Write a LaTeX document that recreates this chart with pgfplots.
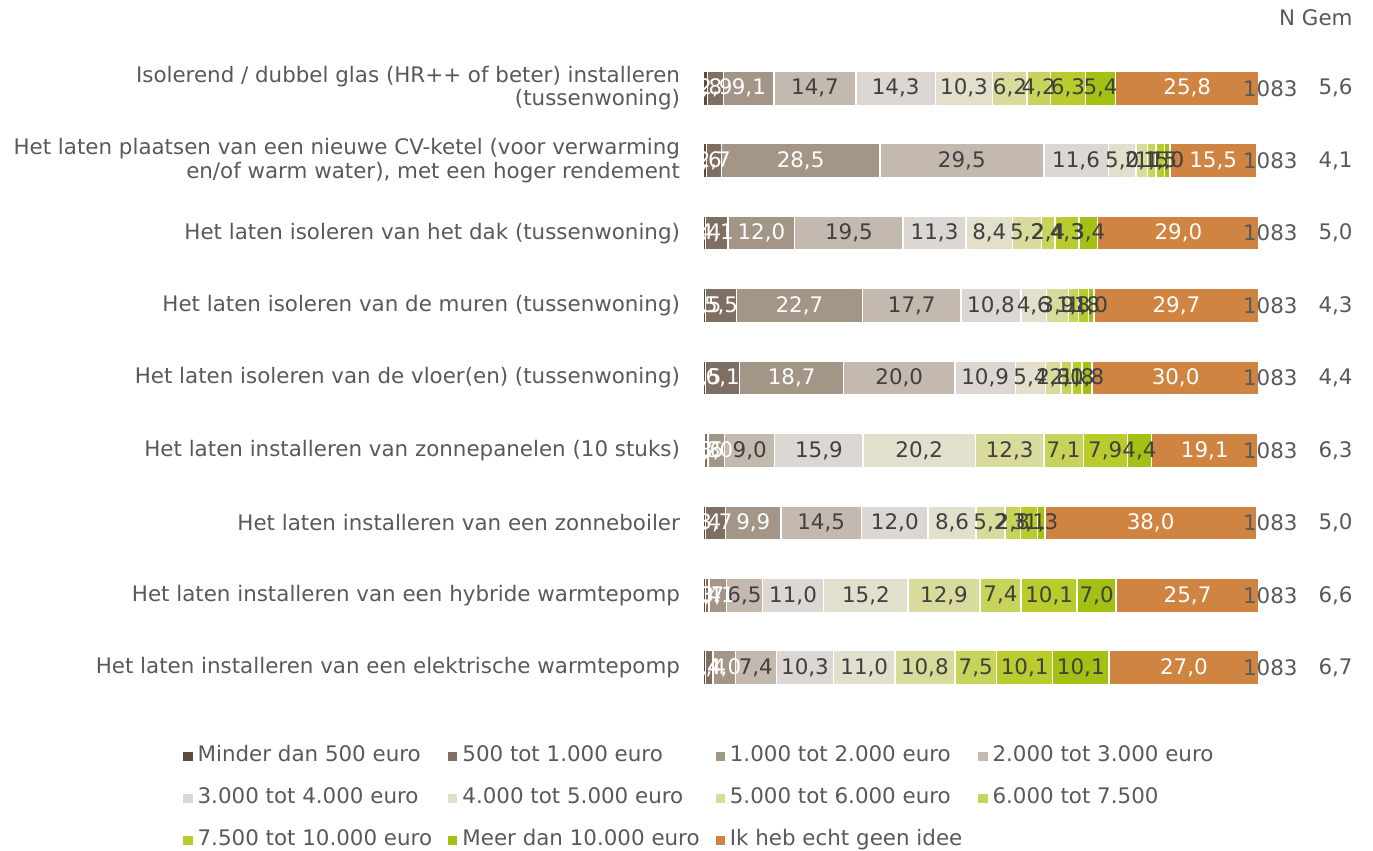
\documentclass[border=0pt]{standalone}
\usepackage{fontspec}
\setmainfont{DejaVu Sans}
\usepackage{pgfplots}
\usepackage{pgfplotstable}
\pgfplotsset{compat=1.18}

\definecolor{txt}{HTML}{595959}
\definecolor{num}{HTML}{404040}
\definecolor{c1}{HTML}{5B4B3D}
\definecolor{c2}{HTML}{7F6F62}
\definecolor{c3}{HTML}{A39686}
\definecolor{c4}{HTML}{C4B9AE}
\definecolor{c5}{HTML}{DCD7D3}
\definecolor{c6}{HTML}{E2DFCD}
\definecolor{c7}{HTML}{D8DB9C}
\definecolor{c8}{HTML}{C8D35C}
\definecolor{c9}{HTML}{B9CB2D}
\definecolor{c10}{HTML}{A4C113}
\definecolor{c11}{HTML}{D08441}

% percentages per measure (rows top to bottom)
\pgfplotstableread{
row c1  c2  c3   c4   c5   c6   c7   c8  c9   c10  c11
0   0.8 2.9 9.1  14.7 14.3 10.3 6.2  4.2 6.3  5.4  25.8
1   0.6 2.7 28.5 29.5 11.6 5.0  2.1  1.5 1.5  1.0  15.5
2   0.4 4.1 12.0 19.5 11.3 8.4  5.2  2.4 4.3  3.4  29.0
3   0.5 5.5 22.7 17.7 10.8 4.6  3.9  1.8 1.8  1.0  29.7
4   0.5 6.1 18.7 20.0 10.9 5.4  2.8  2.0 1.8  1.8  30.0
5   0.3 0.6 3.0  9.0  15.9 20.2 12.3 7.1 7.9  4.4  19.1
6   0.4 3.7 9.9  14.5 12.0 8.6  5.2  2.8 3.1  1.3  38.0
7   0.4 0.7 3.1  6.5  11.0 15.2 12.9 7.4 10.1 7.0  25.7
8   0.4 1.4 4.0  7.4  10.3 11.0 10.8 7.5 10.1 10.1 27.0
}\costs

\begin{document}
\begin{tikzpicture}[font=\fontsize{10.7}{11.8}\selectfont]
\useasboundingbox (0,0) rectangle (686.5pt,-425.5pt);
\begin{axis}[
  at={(351.5pt,-26pt)}, anchor=north west,
  scale only axis, width=278pt, height=326pt,
  xbar stacked, bar width=17pt,
  xmin=0, xmax=100, ymin=-0.5, ymax=8.5,
  y dir=reverse,
  clip=false,
  hide x axis,
  axis y line*=left,
  y axis line style={draw=none},
  ytick={0,...,8},
  ytick style={draw=none},
  yticklabels={
    {Isolerend / dubbel glas (HR++ of beter) installeren\\(tussenwoning)},
    {Het laten plaatsen van een nieuwe CV-ketel (voor verwarming\\en/of warm water), met een hoger rendement},
    {Het laten isoleren van het dak (tussenwoning)},
    {Het laten isoleren van de muren (tussenwoning)},
    {Het laten isoleren van de vloer(en) (tussenwoning)},
    {Het laten installeren van zonnepanelen (10 stuks)},
    {Het laten installeren van een zonneboiler},
    {Het laten installeren van een hybride warmtepomp},
    {Het laten installeren van een elektrische warmtepomp}},
  yticklabel style={align=right, text=txt, xshift=-8pt},
  every axis plot/.append style={draw=white, line width=0.7pt},
  point meta=explicit,
  nodes near coords={\pgfmathprintnumber[fixed,fixed zerofill,precision=1,use comma,assume math mode=true]{\pgfplotspointmeta}},
  every node near coord/.append style={anchor=center, text=num, inner sep=0pt},
  legend columns=4,
  legend cell align=left,
  legend image code/.code={\fill[#1,draw=none] (0pt,-2.3pt) rectangle (4.6pt,2.3pt);},
  legend style={at={(-0.9352,-0.061)}, anchor=north west, draw=none, fill=none,
    inner sep=0pt, row sep=9pt, text=txt,
    nodes={inner sep=1pt, text height=7.8pt, text depth=2.2pt},
    /tikz/every odd column/.append style={column sep=1.5pt},
    /tikz/every even column/.append style={column sep=7pt}},
  % N and mean columns, drawn after the bars
  after end axis/.code={
    \node[anchor=east, text=txt, inner sep=0pt] at (axis cs:116.9,-0.97) {N Gem};
    \node[anchor=east, text=txt, inner sep=0pt] at (axis cs:107.0,0) {1083};
    \node[anchor=east, text=txt, inner sep=0pt] at (axis cs:107.0,1) {1083};
    \node[anchor=east, text=txt, inner sep=0pt] at (axis cs:107.0,2) {1083};
    \node[anchor=east, text=txt, inner sep=0pt] at (axis cs:107.0,3) {1083};
    \node[anchor=east, text=txt, inner sep=0pt] at (axis cs:107.0,4) {1083};
    \node[anchor=east, text=txt, inner sep=0pt] at (axis cs:107.0,5) {1083};
    \node[anchor=east, text=txt, inner sep=0pt] at (axis cs:107.0,6) {1083};
    \node[anchor=east, text=txt, inner sep=0pt] at (axis cs:107.0,7) {1083};
    \node[anchor=east, text=txt, inner sep=0pt] at (axis cs:107.0,8) {1083};
    \node[anchor=east, text=txt, inner sep=0pt] at (axis cs:116.9,0) {5,6};
    \node[anchor=east, text=txt, inner sep=0pt] at (axis cs:116.9,1) {4,1};
    \node[anchor=east, text=txt, inner sep=0pt] at (axis cs:116.9,2) {5,0};
    \node[anchor=east, text=txt, inner sep=0pt] at (axis cs:116.9,3) {4,3};
    \node[anchor=east, text=txt, inner sep=0pt] at (axis cs:116.9,4) {4,4};
    \node[anchor=east, text=txt, inner sep=0pt] at (axis cs:116.9,5) {6,3};
    \node[anchor=east, text=txt, inner sep=0pt] at (axis cs:116.9,6) {5,0};
    \node[anchor=east, text=txt, inner sep=0pt] at (axis cs:116.9,7) {6,6};
    \node[anchor=east, text=txt, inner sep=0pt] at (axis cs:116.9,8) {6,7};
  },
]
\addplot[fill=c1, every node near coord/.append style={text=white}] table[x=c1,y=row,meta=c1]{\costs};
\addlegendentry{Minder dan 500 euro}
\addplot[fill=c2, every node near coord/.append style={text=white}] table[x=c2,y=row,meta=c2]{\costs};
\addlegendentry{500 tot 1.000 euro}
\addplot[fill=c3, every node near coord/.append style={text=white}] table[x=c3,y=row,meta=c3]{\costs};
\addlegendentry{1.000 tot 2.000 euro}
\addplot[fill=c4] table[x=c4,y=row,meta=c4]{\costs};
\addlegendentry{2.000 tot 3.000 euro}
\addplot[fill=c5] table[x=c5,y=row,meta=c5]{\costs};
\addlegendentry{3.000 tot 4.000 euro}
\addplot[fill=c6] table[x=c6,y=row,meta=c6]{\costs};
\addlegendentry{4.000 tot 5.000 euro}
\addplot[fill=c7] table[x=c7,y=row,meta=c7]{\costs};
\addlegendentry{5.000 tot 6.000 euro}
\addplot[fill=c8] table[x=c8,y=row,meta=c8]{\costs};
\addlegendentry{6.000 tot 7.500}
\addplot[fill=c9] table[x=c9,y=row,meta=c9]{\costs};
\addlegendentry{7.500 tot 10.000 euro}
\addplot[fill=c10] table[x=c10,y=row,meta=c10]{\costs};
\addlegendentry{Meer dan 10.000 euro}
\addplot[fill=c11, every node near coord/.append style={text=white}] table[x=c11,y=row,meta=c11]{\costs};
\addlegendentry{Ik heb echt geen idee}
\end{axis}
\end{tikzpicture}
\end{document}
